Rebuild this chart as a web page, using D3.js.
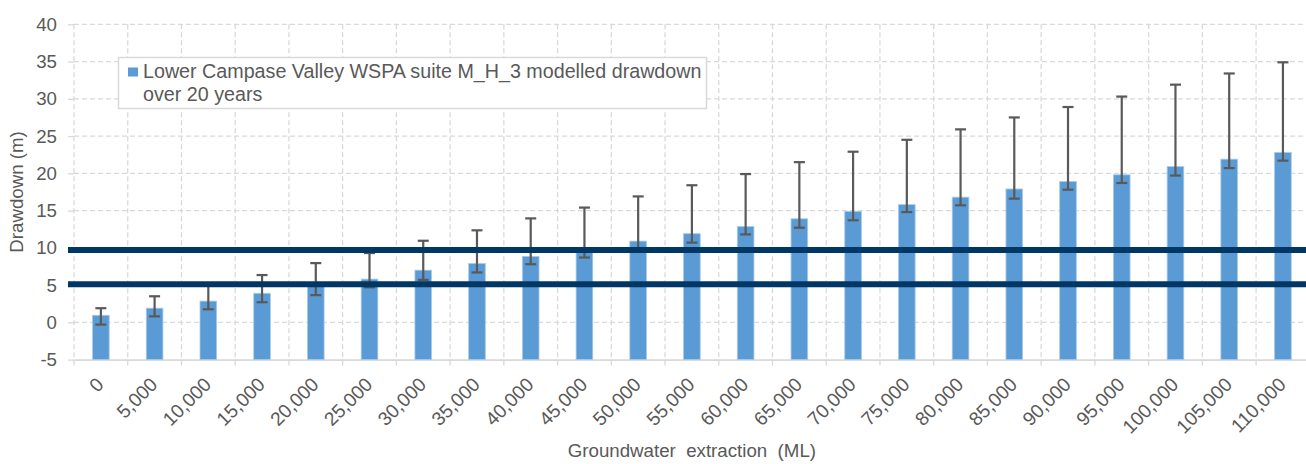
<!DOCTYPE html>
<html>
<head>
<meta charset="utf-8">
<script src="https://cdn.jsdelivr.net/npm/d3@7"></script>
<style>
  html, body { margin: 0; padding: 0; background: #fff; }
  svg { display: block; }
  text { font-family: "Liberation Sans", Arial, sans-serif; fill: #595959; }
</style>
</head>
<body>
<svg id="chart" width="1306" height="464"></svg>
<script>
// ---- data ----
const categories = ["0","5,000","10,000","15,000","20,000","25,000","30,000","35,000","40,000","45,000","50,000","55,000","60,000","65,000","70,000","75,000","80,000","85,000","90,000","95,000","100,000","105,000","110,000"];
const drawdown = [0.95, 1.9, 2.85, 3.9, 4.95, 5.8, 7.0, 7.9, 8.85, 9.9, 10.9, 11.9, 12.85, 13.9, 14.9, 15.8, 16.8, 17.9, 18.9, 19.8, 20.9, 21.9, 22.8];
const errLow = [-0.3, 0.8, 1.75, 2.7, 3.65, 4.7, 5.7, 6.7, 7.8, 8.7, 9.7, 10.7, 11.8, 12.7, 13.7, 14.8, 15.7, 16.6, 17.8, 18.7, 19.7, 20.7, 21.7];
const errHigh = [1.9, 3.5, 4.9, 6.35, 7.95, 9.3, 10.95, 12.35, 13.95, 15.4, 16.9, 18.4, 19.9, 21.5, 22.9, 24.5, 25.9, 27.5, 28.9, 30.3, 31.9, 33.4, 34.9];
const thresholds = [9.7, 5.1];
const yTicks = [-5, 0, 5, 10, 15, 20, 25, 30, 35, 40];
const legendLines = ["Lower Campase Valley WSPA suite M_H_3 modelled drawdown", "over 20 years"];
const xTitle = "Groundwater  extraction  (ML)";
const yTitle = "Drawdown (m)";

// ---- layout ----
const svg = d3.select("#chart");
const pLeft = 74, pRight = 1309.8, pTop = 24.3, pBottom = 359.6;
const x = d3.scaleBand().domain(categories).range([pLeft, pRight]).paddingInner(0).paddingOuter(0);
const y = d3.scaleLinear().domain([-5, 40]).range([pBottom, pTop]);
const grid = "#d9d9d9";
const fs = "18.7px";

// horizontal gridlines
svg.append("g").selectAll("line").data(yTicks.filter(d => d !== -5)).join("line")
  .attr("x1", pLeft).attr("x2", pRight)
  .attr("y1", d => y(d)).attr("y2", d => y(d))
  .attr("stroke", grid).attr("stroke-width", 1.3).attr("stroke-dasharray", "5,3");

// vertical gridlines (category boundaries)
const bounds = categories.map(c => x(c)).concat([pRight]);
svg.append("g").selectAll("line").data(bounds).join("line")
  .attr("x1", d => d).attr("x2", d => d)
  .attr("y1", pTop).attr("y2", pBottom)
  .attr("stroke", grid).attr("stroke-width", 1.3).attr("stroke-dasharray", "5,3");
// tick marks below x axis
svg.append("g").selectAll("line").data(bounds).join("line")
  .attr("x1", d => d).attr("x2", d => d)
  .attr("y1", pBottom).attr("y2", pBottom + 6)
  .attr("stroke", grid).attr("stroke-width", 1.3);

// y axis
const yAxis = svg.append("g").attr("transform", `translate(${pLeft},0)`)
  .call(d3.axisLeft(y).tickValues(yTicks).tickSize(6).tickPadding(11).tickFormat(d => String(d)));
yAxis.select(".domain").remove();
yAxis.selectAll(".tick line").attr("stroke", grid).attr("stroke-width", 1.3);
yAxis.selectAll(".tick text").style("font-size", fs).attr("fill", "#595959").attr("font-family", null);

// x axis
const xAxis = svg.append("g").attr("transform", `translate(0,${pBottom})`)
  .call(d3.axisBottom(x).tickSize(0));
xAxis.select(".domain").attr("stroke", grid).attr("stroke-width", 1.6);
xAxis.selectAll(".tick text")
  .style("font-size", "19.2px").attr("fill", "#595959").attr("font-family", null)
  .attr("x", 0).attr("y", 0).attr("dy", 0)
  .attr("text-anchor", "end")
  .attr("transform", "translate(4,26) rotate(-45)");

// bars
const bw = x.bandwidth() * 0.31;
const data = categories.map((c, i) => ({c, v: drawdown[i], lo: errLow[i], hi: errHigh[i]}));
svg.append("g").selectAll("rect").data(data).join("rect")
  .attr("x", d => x(d.c) + (x.bandwidth() - bw) / 2)
  .attr("width", bw)
  .attr("y", d => y(d.v))
  .attr("height", d => y(-5) - y(d.v))
  .attr("fill", "#5b9bd5").attr("stroke", "#a9cbea").attr("stroke-width", 0.8);

// error bars
const eb = svg.append("g").attr("stroke", "#595959").attr("stroke-width", 2.2);
const cx = d => x(d.c) + x.bandwidth() / 2;
const cap = 5.5;
eb.selectAll("line.v").data(data).join("line").attr("class", "v")
  .attr("x1", cx).attr("x2", cx).attr("y1", d => y(d.lo)).attr("y2", d => y(d.hi));
eb.selectAll("line.t").data(data).join("line").attr("class", "t")
  .attr("x1", d => cx(d) - cap).attr("x2", d => cx(d) + cap).attr("y1", d => y(d.hi)).attr("y2", d => y(d.hi));
eb.selectAll("line.b").data(data).join("line").attr("class", "b")
  .attr("x1", d => cx(d) - cap).attr("x2", d => cx(d) + cap).attr("y1", d => y(d.lo)).attr("y2", d => y(d.lo));

// threshold lines
svg.append("g").selectAll("line").data(thresholds).join("line")
  .attr("x1", 68).attr("x2", 1306)
  .attr("y1", d => y(d)).attr("y2", d => y(d))
  .attr("stroke", "#003764").attr("stroke-width", 6);

// legend
const lg = svg.append("g");
lg.append("rect").attr("x", 118.5).attr("y", 57.5).attr("width", 588).attr("height", 51)
  .attr("fill", "#fff").attr("stroke", grid).attr("stroke-width", 1.5);
lg.append("rect").attr("x", 128).attr("y", 67.5).attr("width", 10).attr("height", 9).attr("fill", "#5b9bd5");
lg.selectAll("text").data(legendLines).join("text")
  .attr("x", 143).attr("y", (d, i) => 78 + i * 22.5)
  .style("font-size", "19.7px").text(d => d);

// axis titles
svg.append("text").attr("x", (pLeft + pRight) / 2).attr("y", 457)
  .attr("text-anchor", "middle").style("font-size", fs).style("white-space", "pre").text(xTitle);
svg.append("text").attr("transform", `translate(23,${(pTop + pBottom) / 2}) rotate(-90)`)
  .attr("text-anchor", "middle").style("font-size", fs).text(yTitle);
</script>
</body>
</html>
